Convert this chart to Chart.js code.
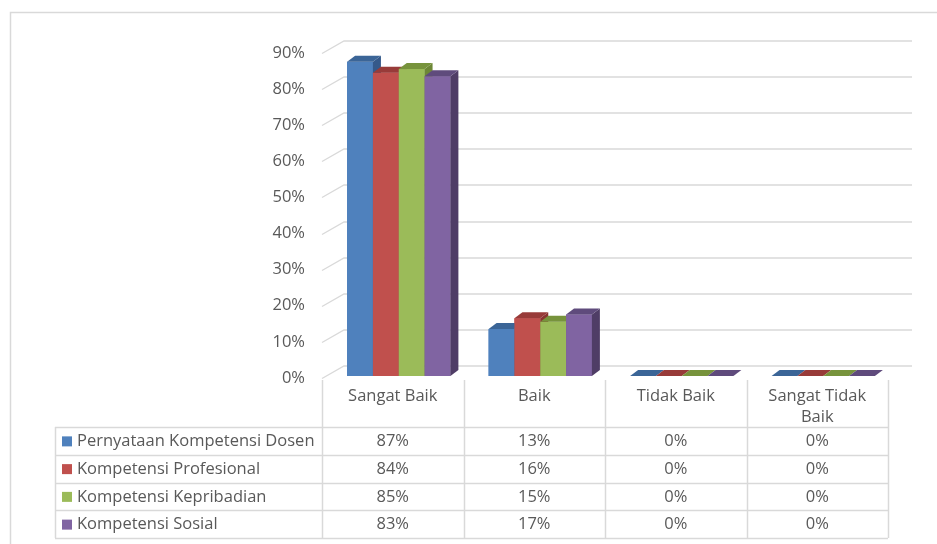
<!DOCTYPE html>
<html>
<head>
<meta charset="utf-8">
<script src="https://cdn.jsdelivr.net/npm/chart.js@4.4.1/dist/chart.umd.min.js"></script>
<style>
  html, body { margin: 0; padding: 0; background: #fff; }
  #wrap { width: 937px; height: 544px; }
</style>
</head>
<body>
<div id="wrap"><canvas id="myChart" width="937" height="544"></canvas></div>
<script>
const categories = ['Sangat Baik', 'Baik', 'Tidak Baik', ['Sangat Tidak', 'Baik']];
const seriesNames = ['Pernyataan Kompetensi Dosen', 'Kompetensi Profesional', 'Kompetensi Kepribadian', 'Kompetensi Sosial'];
const dosen = [87, 13, 0, 0];
const profesional = [84, 16, 0, 0];
const kepribadian = [85, 15, 0, 0];
const sosial = [83, 17, 0, 0];
const yMax = 90;
const yStep = 10;

const frontColors = ['#4F81BD', '#C0504D', '#9BBB59', '#8064A2'];
const topColors = ['#3B6597', '#983B39', '#77933C', '#5F4B7C'];
const sideColors = ['#35598A', '#8A3431', '#6D8736', '#4F3D66'];

const FONT = "'Open Sans', sans-serif";
const FONT_SIZE = 16.5;
const TEXT = '#595959';
const LINE = '#D9D9D9';

// 3d look
const DX = 8, DY = 6;
const WALL_X = 22, WALL_Y = 12.5;
const SHIFT_X = 6, SHIFT_Y = -2;

const threeD = {
  id: 'threeD',
  beforeDraw(chart) {
    const ctx = chart.ctx;
    ctx.save();
    ctx.strokeStyle = LINE;
    ctx.lineWidth = 1.5;
    ctx.strokeRect(10.5, 12.5, 1200, 1200);
    ctx.restore();
  },
  beforeDatasetsDraw(chart) {
    const { ctx, chartArea, scales } = chart;
    ctx.save();
    ctx.strokeStyle = LINE;
    ctx.lineWidth = 1.3;
    scales.y.ticks.forEach((t) => {
      const yy = Math.round(scales.y.getPixelForValue(t.value)) + 0.5;
      ctx.beginPath();
      ctx.moveTo(chartArea.left, yy);
      ctx.lineTo(chartArea.left + WALL_X, yy - WALL_Y);
      ctx.lineTo(chartArea.right + 24, yy - WALL_Y);
      ctx.stroke();
    });
    ctx.restore();
    ctx.save();
    ctx.translate(SHIFT_X, SHIFT_Y);
  },
  afterDatasetsDraw(chart) {
    const ctx = chart.ctx;
    const n = chart.data.labels.length;
    for (let i = 0; i < n; i++) {
      chart.data.datasets.forEach((ds, j) => {
        const bar = chart.getDatasetMeta(j).data[i];
        const { x, y, base, width } = bar.getProps(['x', 'y', 'base', 'width'], true);
        const l = x - width / 2;
        const r = x + width / 2;
        ctx.fillStyle = frontColors[j];
        ctx.fillRect(l, y, width, base - y);
        ctx.fillStyle = sideColors[j];
        ctx.beginPath();
        ctx.moveTo(r, y);
        ctx.lineTo(r + DX, y - DY);
        ctx.lineTo(r + DX, base - DY);
        ctx.lineTo(r, base);
        ctx.closePath();
        ctx.fill();
        ctx.fillStyle = topColors[j];
        ctx.beginPath();
        ctx.moveTo(l, y);
        ctx.lineTo(r, y);
        ctx.lineTo(r + DX, y - DY);
        ctx.lineTo(l + DX, y - DY);
        ctx.closePath();
        ctx.fill();
      });
    }
    ctx.restore();
  }
};

const dataTable = {
  id: 'dataTable',
  afterDraw(chart) {
    const { ctx, chartArea } = chart;
    const n = categories.length;
    const step = (chartArea.right - chartArea.left) / n;
    const headTop = 380;
    const rowTop = 427;
    const rowH = 27.75;
    const legLeft = 55;
    const rows = [dosen, profesional, kepribadian, sosial];
    const bottom = rowTop + rowH * rows.length;

    ctx.save();
    ctx.strokeStyle = LINE;
    ctx.lineWidth = 1.5;
    // vertical lines
    for (let k = 0; k <= n; k++) {
      const xx = Math.round(chartArea.left + k * step) + 0.5;
      ctx.beginPath();
      ctx.moveTo(xx, headTop);
      ctx.lineTo(xx, bottom);
      ctx.stroke();
    }
    ctx.beginPath();
    ctx.moveTo(legLeft + 0.5, rowTop);
    ctx.lineTo(legLeft + 0.5, bottom);
    ctx.stroke();
    // horizontal lines
    for (let r = 0; r <= rows.length; r++) {
      const yy = Math.round(rowTop + r * rowH) + 0.5;
      ctx.beginPath();
      ctx.moveTo(legLeft, yy);
      ctx.lineTo(chartArea.right, yy);
      ctx.stroke();
    }

    ctx.font = FONT_SIZE + 'px ' + FONT;
    ctx.fillStyle = TEXT;
    ctx.textBaseline = 'middle';
    rows.forEach((vals, r) => {
      const cy = rowTop + r * rowH + rowH / 2 + 0.5;
      ctx.fillStyle = frontColors[r];
      ctx.fillRect(62, cy - 5, 10, 10);
      ctx.fillStyle = TEXT;
      ctx.textAlign = 'left';
      ctx.fillText(seriesNames[r], 77, cy);
      ctx.textAlign = 'center';
      vals.forEach((v, c) => {
        ctx.fillText(v + '%', chartArea.left + step * (c + 0.5), cy);
      });
    });
    ctx.restore();
  }
};

const ctx = document.getElementById('myChart').getContext('2d');

const myChart = new Chart(ctx, {
  type: 'bar',
  data: {
    labels: categories,
    datasets: [
      { label: seriesNames[0], data: dosen, backgroundColor: frontColors[0] },
      { label: seriesNames[1], data: profesional, backgroundColor: frontColors[1] },
      { label: seriesNames[2], data: kepribadian, backgroundColor: frontColors[2] },
      { label: seriesNames[3], data: sosial, backgroundColor: frontColors[3] },
    ],
  },
  options: {
    responsive: false,
    animation: false,
    devicePixelRatio: 1,
    layout: {
      padding: { left: 262, right: 49, top: 53, bottom: 116 },
    },
    datasets: {
      bar: { categoryPercentage: 0.73, barPercentage: 1.0, borderWidth: 0 },
    },
    plugins: {
      legend: { display: false },
      tooltip: { enabled: false },
    },
    scales: {
      x: {
        grid: { display: false, drawTicks: false },
        border: { display: false },
        ticks: {
          color: TEXT,
          font: { family: FONT, size: FONT_SIZE, lineHeight: 1.27 },
          padding: 8,
          maxRotation: 0,
          autoSkip: false,
        },
        afterFit(scale) { scale.height = 50; },
      },
      y: {
        min: 0,
        max: yMax,
        grid: { display: false, drawTicks: false },
        border: { display: false },
        ticks: {
          stepSize: yStep,
          color: TEXT,
          font: { family: FONT, size: FONT_SIZE },
          padding: 17,
          callback: (v) => v + '%',
        },
        afterFit(scale) { scale.width = 60; },
      },
    },
  },
  plugins: [threeD, dataTable],
});
</script>
</body>
</html>
